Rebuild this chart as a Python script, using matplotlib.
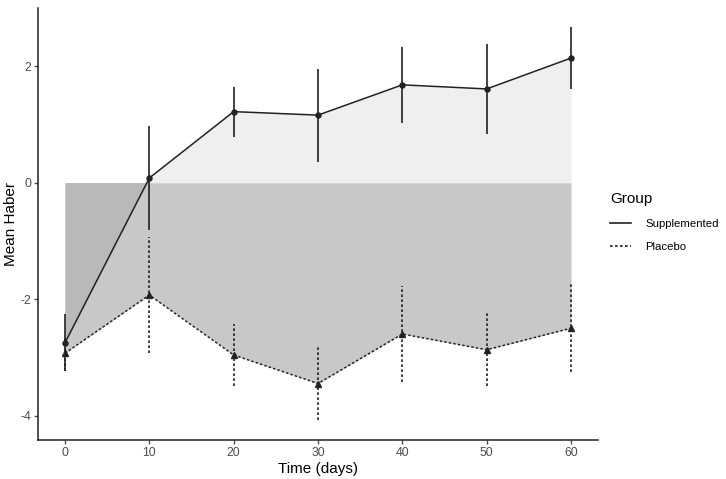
import numpy as np
import matplotlib.pyplot as plt
from matplotlib.lines import Line2D

plt.rcParams['font.family'] = ['Liberation Sans', 'DejaVu Sans']
plt.rcParams['axes.unicode_minus'] = False

# Data
days = np.array([0, 10, 20, 30, 40, 50, 60])
supp_mean = np.array([-2.75, 0.08, 1.22, 1.16, 1.68, 1.61, 2.14])
supp_err = np.array([0.49, 0.90, 0.43, 0.80, 0.65, 0.77, 0.53])
plac_mean = np.array([-2.93, -1.93, -2.96, -3.45, -2.60, -2.87, -2.50])
plac_err = np.array([0.30, 1.00, 0.53, 0.63, 0.83, 0.63, 0.76])

dot_style = (0, (1.6, 1.4))

fig = plt.figure(figsize=(7.26, 4.79), dpi=100)
ax = fig.add_axes([38 / 726, 39 / 479, 560 / 726, 432 / 479])

# shaded ribbons to zero
ax.fill_between(days, plac_mean, 0, color="#c8c8c8", lw=0)
ax.fill_between(days, supp_mean, 0, where=supp_mean >= 0, interpolate=True,
                color="#efefef", lw=0)
ax.fill_between(days, supp_mean, 0, where=supp_mean <= 0, interpolate=True,
                color="#b9b9b9", lw=0)

# error bars
ax.vlines(days, supp_mean - supp_err, supp_mean + supp_err, color="#222222", lw=1.2)
ax.vlines(days, plac_mean - plac_err, plac_mean + plac_err, color="#222222", lw=1.2,
          linestyles=[dot_style])

# lines and points
ax.plot(days, supp_mean, color="#222222", lw=1.1, marker="o", ms=3.6)
ax.plot(days, plac_mean, color="#222222", lw=1.1, ls=dot_style, marker="^", ms=4.2)

ax.set_xlim(-3.2, 63.2)
ax.set_ylim(-4.42, 3.0)
ax.set_xticks([0, 10, 20, 30, 40, 50, 60])
ax.set_yticks([-4, -2, 0, 2])
ax.tick_params(colors="#4d4d4d", labelsize=8.8, length=3, width=1, pad=2)
for s in ["top", "right"]:
    ax.spines[s].set_visible(False)
for s in ["left", "bottom"]:
    ax.spines[s].set_linewidth(1.1)
    ax.spines[s].set_color("#222222")

ax.set_xlabel("Time (days)", fontsize=11, labelpad=2)
ax.set_ylabel("Mean Haber", fontsize=11, labelpad=2)

handles = [Line2D([], [], color="#222222", lw=1.2),
           Line2D([], [], color="#222222", lw=1.2, ls=dot_style)]
leg = fig.legend(handles, ["Supplemented", "Placebo"], title="Group",
                 loc="upper left", bbox_to_anchor=(600 / 726, 1 - 182 / 479),
                 frameon=False, fontsize=8.2, title_fontsize=11,
                 handlelength=1.8, handletextpad=1.3, labelspacing=1.15)
leg._legend_box.align = "left"
leg._legend_box.sep = 9

fig.savefig("out.png", dpi=100)
